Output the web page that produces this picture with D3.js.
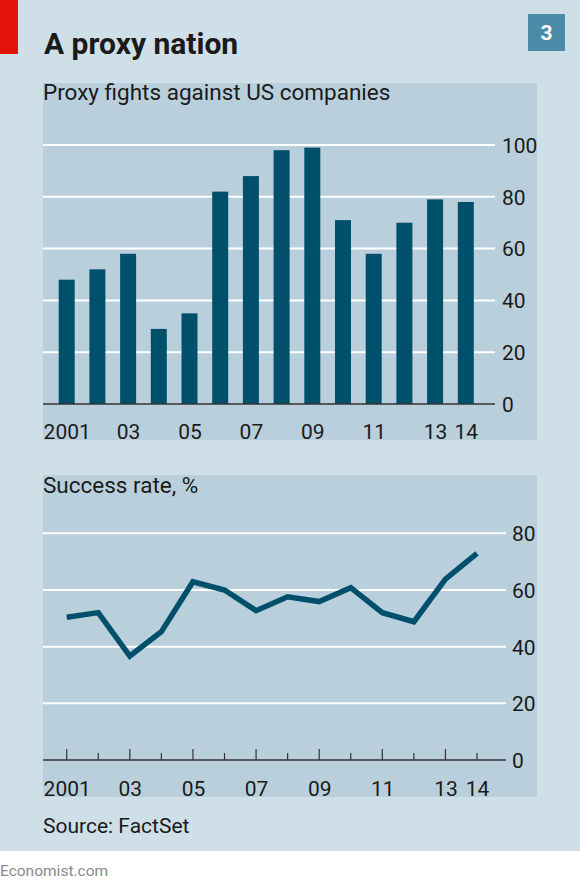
<!DOCTYPE html>
<html><head><meta charset="utf-8">
<script src="https://cdn.jsdelivr.net/npm/d3@7"></script>
<style>
html,body{margin:0;padding:0;background:#fff;}
svg{display:block;}
text{font-family:Roboto,"Open Sans",sans-serif;fill:#1a1a1a;}
</style></head>
<body>
<svg id="chart" width="580" height="888"></svg>
<script>
// ---- data ----
const years = [2001,2002,2003,2004,2005,2006,2007,2008,2009,2010,2011,2012,2013,2014];
const proxyFights = [48,52,58,29,35,82,88,98,99,71,58,70,79,78];
const successRate = [50.4,52,36.7,45.3,62.9,60,52.7,57.6,55.9,60.8,52,48.8,63.8,72.9];
const labelYears = [2001,2003,2005,2007,2009,2011,2013,2014];
const labelTexts = ["2001","03","05","07","09","11","13","14"];
const topTicks = [0,20,40,60,80,100];
const bottomTicks = [0,20,40,60,80];
const majorTickYears = [2001,2003,2005,2007,2009,2011,2013];

const title = "A proxy nation";
const subtitle1 = "Proxy fights against US companies";
const subtitle2 = "Success rate, %";
const source = "Source: FactSet";

// ---- styles ----
const BG = "#cfdfe8", PANEL = "#b9d0dc", DARK = "#00506c", RED = "#e3120b", BOX = "#4b8ba8";

const svg = d3.select("#chart");
svg.append("rect").attr("x",0).attr("y",0).attr("width",580).attr("height",851).attr("fill",BG);
svg.append("rect").attr("x",0).attr("y",0).attr("width",18).attr("height",54).attr("fill",RED);
svg.append("text").attr("x",44).attr("y",54).attr("font-size",30).attr("font-weight",700).text(title);
svg.append("rect").attr("x",528).attr("y",14).attr("width",37).attr("height",37).attr("fill",BOX);
svg.append("text").attr("x",546.5).attr("y",40).attr("text-anchor","middle").attr("font-size",21)
   .attr("font-weight",700).style("fill","#fff").text("3");

const labelFmt = d => labelTexts[labelYears.indexOf(d)];

// ---- top panel: bars ----
svg.append("rect").attr("x",43).attr("y",83).attr("width",494).attr("height",357).attr("fill",PANEL);
svg.append("text").attr("x",43).attr("y",100).attr("font-size",22.5).text(subtitle1);

const x1 = d3.scalePoint().domain(years).range([66.7,465.8]);
const y1 = d3.scaleLinear().domain([0,100]).range([404,145]);
const barW = 16;

svg.append("g").selectAll("line").data(topTicks.filter(d=>d>0)).join("line")
  .attr("x1",43).attr("x2",495).attr("y1",d=>y1(d)).attr("y2",d=>y1(d))
  .attr("stroke","#fff").attr("stroke-width",2);

svg.append("g").selectAll("rect").data(years).join("rect")
  .attr("x",(d)=>x1(d)-barW/2).attr("width",barW)
  .attr("y",(d,i)=>y1(proxyFights[i])).attr("height",(d,i)=>y1(0)-y1(proxyFights[i]))
  .attr("fill",DARK);

svg.append("line").attr("x1",43).attr("x2",495).attr("y1",y1(0)).attr("y2",y1(0))
  .attr("stroke","#333").attr("stroke-width",1.3);

const ay1 = svg.append("g").attr("transform","translate(495,0)")
  .call(d3.axisRight(y1).tickValues(topTicks).tickSize(0).tickPadding(7).tickFormat(d3.format("d")));
ay1.select(".domain").remove();
ay1.selectAll("text").attr("font-size",21).attr("font-family",null).style("fill","#1a1a1a").attr("dy","0.35em");

const ax1 = svg.append("g").attr("transform","translate(0,439)")
  .call(d3.axisBottom(x1).tickValues(labelYears).tickSize(0).tickFormat(labelFmt));
ax1.select(".domain").remove();
ax1.selectAll("text").attr("y",0).attr("dy",0).attr("font-size",21).attr("font-family",null).style("fill","#1a1a1a");

// ---- bottom panel: line ----
svg.append("rect").attr("x",43).attr("y",475).attr("width",494).attr("height",322).attr("fill",PANEL);
svg.append("text").attr("x",43).attr("y",493).attr("font-size",22.5).text(subtitle2);

const x2 = d3.scalePoint().domain(years).range([66.7,477]);
const y2 = d3.scaleLinear().domain([0,80]).range([760,533.3]);

svg.append("g").selectAll("line").data(bottomTicks.filter(d=>d>0)).join("line")
  .attr("x1",43).attr("x2",506).attr("y1",d=>y2(d)).attr("y2",d=>y2(d))
  .attr("stroke","#fff").attr("stroke-width",2);

svg.append("g").selectAll("line").data(years).join("line")
  .attr("x1",d=>x2(d)).attr("x2",d=>x2(d)).attr("y1",y2(0))
  .attr("y2",d=>y2(0) - (majorTickYears.includes(d) ? 11 : 7))
  .attr("stroke","#333").attr("stroke-width",1.2);

svg.append("line").attr("x1",43).attr("x2",506).attr("y1",y2(0)).attr("y2",y2(0))
  .attr("stroke","#333").attr("stroke-width",1.3);

const line = d3.line().x((d,i)=>x2(years[i])).y(d=>y2(d));
svg.append("path").datum(successRate).attr("d",line).attr("fill","none")
  .attr("stroke",DARK).attr("stroke-width",5.5).attr("stroke-linejoin","miter");

const ay2 = svg.append("g").attr("transform","translate(506,0)")
  .call(d3.axisRight(y2).tickValues(bottomTicks).tickSize(0).tickPadding(6).tickFormat(d3.format("d")));
ay2.select(".domain").remove();
ay2.selectAll("text").attr("font-size",21).attr("font-family",null).style("fill","#1a1a1a").attr("dy","0.35em");

const ax2 = svg.append("g").attr("transform","translate(0,796)")
  .call(d3.axisBottom(x2).tickValues(labelYears).tickSize(0).tickFormat(labelFmt));
ax2.select(".domain").remove();
ax2.selectAll("text").attr("y",0).attr("dy",0).attr("font-size",21).attr("font-family",null).style("fill","#1a1a1a");

// ---- footer ----
svg.append("text").attr("x",43).attr("y",833).attr("font-size",21).text(source);
svg.append("text").attr("x",0).attr("y",876).attr("font-size",15.5).style("fill","#8a8a8a").text("Economist.com");
</script>
</body></html>
